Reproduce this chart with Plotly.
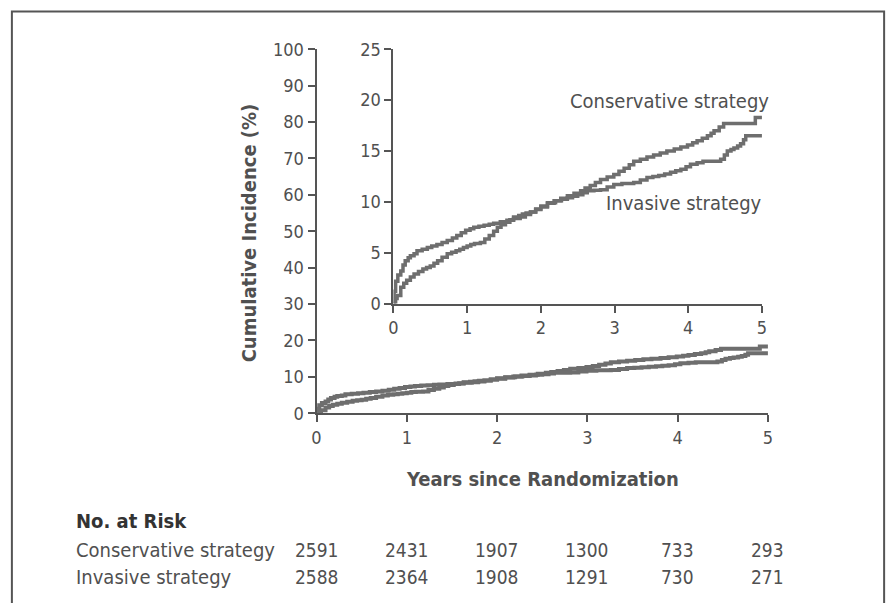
import plotly.graph_objects as go

# ---- data ----
cons_t = [0, 0.01, 0.03, 0.06, 0.1, 0.13, 0.16, 0.2, 0.23, 0.28, 0.32, 0.39, 0.46, 0.52, 0.59, 0.66,
          0.73, 0.8, 0.86, 0.92, 0.98, 1.04, 1.09, 1.16, 1.23, 1.3, 1.36, 1.45, 1.54, 1.63, 1.72,
          1.79, 1.86, 1.93, 2.0, 2.09, 2.18, 2.27, 2.36, 2.45, 2.54, 2.6, 2.67, 2.74, 2.81, 2.9,
          2.99, 3.06, 3.13, 3.2, 3.26, 3.35, 3.44, 3.53, 3.62, 3.71, 3.81, 3.9, 3.99, 4.06, 4.12,
          4.19, 4.26, 4.31, 4.35, 4.42, 4.48, 4.91, 5.0]
cons_v = [0, 1.2, 2.2, 2.8, 3.2, 3.8, 4.2, 4.5, 4.7, 4.9, 5.2, 5.35, 5.5, 5.65, 5.8, 6.0,
          6.2, 6.45, 6.7, 6.95, 7.2, 7.35, 7.5, 7.6, 7.7, 7.8, 7.9, 8.05, 8.2, 8.35, 8.5,
          8.75, 9.0, 9.3, 9.6, 9.85, 10.1, 10.35, 10.6, 10.85, 11.1, 11.35, 11.6, 11.9, 12.2, 12.45,
          12.7, 13.0, 13.3, 13.65, 14.0, 14.2, 14.4, 14.6, 14.8, 15.0, 15.2, 15.4, 15.6, 15.8, 16.0,
          16.25, 16.5, 16.75, 17.0, 17.35, 17.7, 18.3, 18.3]
inv_t = [0, 0.03, 0.05, 0.1, 0.14, 0.18, 0.23, 0.28, 0.34, 0.4, 0.45, 0.5, 0.55, 0.6, 0.66, 0.73,
         0.79, 0.85, 0.9, 0.95, 1.0, 1.05, 1.1, 1.18, 1.24, 1.3, 1.36, 1.41, 1.46, 1.52, 1.58, 1.63,
         1.7, 1.75, 1.8, 1.86, 1.93, 2.0, 2.09, 2.2, 2.28, 2.36, 2.43, 2.5, 2.57, 2.63, 2.72, 2.81,
         2.9, 2.99, 3.1, 3.26, 3.35, 3.44, 3.52, 3.6, 3.68, 3.76, 3.83, 3.9, 3.97, 4.03, 4.12, 4.2,
         4.44, 4.49, 4.53, 4.58, 4.62, 4.67, 4.71, 4.75, 4.78, 5.0]
inv_v = [0, 0.5, 0.8, 1.6, 2.0, 2.3, 2.6, 2.9, 3.15, 3.4, 3.55, 3.7, 3.95, 4.2, 4.55, 4.9,
         5.05, 5.2, 5.35, 5.5, 5.65, 5.8, 5.9, 6.0, 6.35, 6.7, 7.1, 7.5, 7.75, 8.0, 8.25, 8.5,
         8.65, 8.8, 8.9, 9.0, 9.25, 9.5, 9.9, 10.1, 10.25, 10.4, 10.55, 10.7, 10.9, 11.1, 11.15, 11.2,
         11.45, 11.7, 11.8, 11.9, 12.15, 12.4, 12.5, 12.6, 12.75, 12.9, 13.05, 13.2, 13.45, 13.7, 13.85, 14.0,
         14.2, 14.6, 15.0, 15.15, 15.3, 15.5, 15.7, 16.1, 16.5, 16.5]

years = [0, 1, 2, 3, 4, 5]
risk_labels = ["Conservative strategy", "Invasive strategy"]
risk_cons = [2591, 2431, 1907, 1300, 733, 293]
risk_inv = [2588, 2364, 1908, 1291, 730, 271]

W, H = 890, 603
FONT = "DejaVu Sans Condensed, DejaVu Sans, sans-serif"
TXT = "#505050"
AX = "#555555"
LN = "#6e6e6e"

# mapping from target picture pixels to figure coordinates (compensates capture framing)
SX, OX = 0.99, 4.1
SY, OY = 0.968, 9.6


def px(x):
    return min(max(((x - OX) / SX) / W, 0.001), 0.999)


def py(y):
    return min(max(1 - ((y - OY) / SY) / H, 0.001), 0.999)


fig = go.Figure()
for t, v in [(cons_t, cons_v), (inv_t, inv_v)]:
    fig.add_trace(go.Scatter(x=t, y=v, mode="lines", line=dict(color=LN, width=4, shape="hv"),
                             xaxis="x", yaxis="y", showlegend=False, hoverinfo="skip"))
for t, v in [(cons_t, cons_v), (inv_t, inv_v)]:
    fig.add_trace(go.Scatter(x=t, y=v, mode="lines", line=dict(color=LN, width=3.5, shape="hv"),
                             xaxis="x2", yaxis="y2", showlegend=False, hoverinfo="skip"))

axis_common = dict(showline=True, linecolor=AX, linewidth=2, ticks="outside", ticklen=7,
                   tickwidth=2, tickcolor=AX, showgrid=False, zeroline=False,
                   tickfont=dict(family=FONT, size=18, color=TXT), fixedrange=True)

fig.update_layout(
    width=W, height=H,
    margin=dict(l=0, r=0, t=0, b=0),
    paper_bgcolor="white", plot_bgcolor="rgba(0,0,0,0)",
    xaxis=dict(domain=[px(316), px(768)], range=[0, 5], tickvals=years, anchor="y", **axis_common),
    yaxis=dict(domain=[py(413), py(48)], range=[0, 100], dtick=10, anchor="x", **axis_common),
    xaxis2=dict(domain=[px(393), px(762)], range=[0, 5], tickvals=years, anchor="y2", **axis_common),
    yaxis2=dict(domain=[py(303), py(48)], range=[0, 25], dtick=5, anchor="x2", **axis_common),
)

ann = []
ann.append(dict(text="<b>Years since Randomization</b>", x=px(542), y=py(479), xref="paper", yref="paper",
                showarrow=False, font=dict(family=FONT, size=20, color=TXT), xanchor="center", yanchor="middle"))
ann.append(dict(text="<b>Cumulative Incidence (%)</b>", x=px(248), y=py(232), xref="paper", yref="paper",
                showarrow=False, textangle=-90, font=dict(family=FONT, size=20, color=TXT),
                xanchor="center", yanchor="middle"))
ann.append(dict(text="Conservative strategy", x=px(771), y=py(100), xref="paper", yref="paper",
                showarrow=False, font=dict(family=FONT, size=20, color=TXT), xanchor="right", yanchor="middle"))
ann.append(dict(text="Invasive strategy", x=px(764), y=py(202), xref="paper", yref="paper",
                showarrow=False, font=dict(family=FONT, size=20, color=TXT), xanchor="right", yanchor="middle"))
ann.append(dict(text="<b>No. at Risk</b>", x=px(73), y=py(521), xref="paper", yref="paper",
                showarrow=False, font=dict(family=FONT, size=20, color="#333333"), xanchor="left", yanchor="middle"))
for lab, vals, yy in [(risk_labels[0], risk_cons, 550), (risk_labels[1], risk_inv, 577)]:
    ann.append(dict(text=lab, x=px(73), y=py(yy), xref="paper", yref="paper", showarrow=False,
                    font=dict(family=FONT, size=20, color=TXT), xanchor="left", yanchor="middle"))
    for yr, n in zip(years, vals):
        ann.append(dict(text=str(n), x=yr, y=py(yy), xref="x", yref="paper", showarrow=False,
                        font=dict(family=FONT, size=19, color=TXT), xanchor="center", yanchor="middle"))
fig.update_layout(annotations=ann)

fig.add_shape(type="path", xref="paper", yref="paper",
              path=f"M {px(11)} -0.05 L {px(11)} {py(9)} L {px(887)} {py(9)} L {px(887)} -0.05",
              line=dict(color=AX, width=2))

fig.write_html("out.html", config={"displayModeBar": False},
               post_script="document.body.style.margin='0';document.body.style.overflow='hidden';")
